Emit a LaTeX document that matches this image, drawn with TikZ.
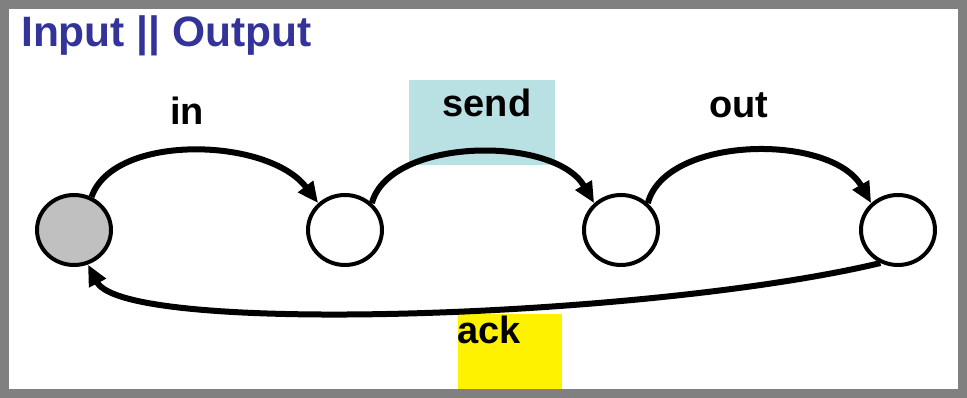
\documentclass[tikz,border=0pt]{standalone}
\usepackage{fontspec}
\setmainfont{Liberation Sans}
\usetikzlibrary{arrows.meta,shapes.geometric}
\definecolor{titleblue}{RGB}{51,51,153}
\definecolor{sendbg}{RGB}{185,224,227}
\definecolor{framegray}{RGB}{128,128,128}
\definecolor{startgray}{RGB}{192,192,192}
\begin{document}
\begin{tikzpicture}[x=1pt,y=1pt,
  state/.style={draw=black,line width=4pt,ellipse,inner sep=0pt,minimum width=74pt,minimum height=70pt,fill=white},
  lbl/.style={font=\fontsize{38}{40}\selectfont\bfseries,anchor=base,inner sep=0pt},
  bgbox/.style={draw=none,inner sep=0pt},
  trans/.style={line width=6pt,-{Triangle[length=21pt,width=18pt]}}
]
\useasboundingbox (0,0) rectangle (967,398);
\fill[white] (0,0) rectangle (967,398);
% background boxes
\node[bgbox,fill=sendbg,minimum width=146pt,minimum height=85pt] (sendbox) at (482,275.5) {};
\node[bgbox,fill=yellow,minimum width=104pt,minimum height=80pt] (ackbox) at (510,44) {};
% frame
\draw[framegray,line width=9pt] (4.5,4.5) rectangle (962.5,393.5);
% title
\node[anchor=base west,inner sep=0pt,text=titleblue,font=\fontsize{42.5}{45}\selectfont\bfseries] (title) at (21,351) {Input || Output};
% states
\node[state,fill=startgray] (s0) at (74,168) {};
\node[state] (s1) at (345,168) {};
\node[state] (s2) at (621,168) {};
\node[state] (s3) at (898,168) {};
% transitions
\draw[trans] (s0.62) .. controls +(22,64) and +(-50,66) .. (s1.135);
\draw[trans] (s1.45) .. controls +(18,66) and +(-40,68) .. (s2.135);
\draw[trans] (s2.45) .. controls +(18,68) and +(-40,70) .. (s3.135);
\draw[trans] (s3.-118) .. controls (650,80) and (125,62) .. (s0.-68);
% labels
\node[lbl] (lin) at (187,273) {in};
\node[lbl] (lsend) at (487,281) {send};
\node[lbl] (lout) at (739,280) {out};
\node[lbl] (lack) at (489,54) {ack};
\end{tikzpicture}
\end{document}
